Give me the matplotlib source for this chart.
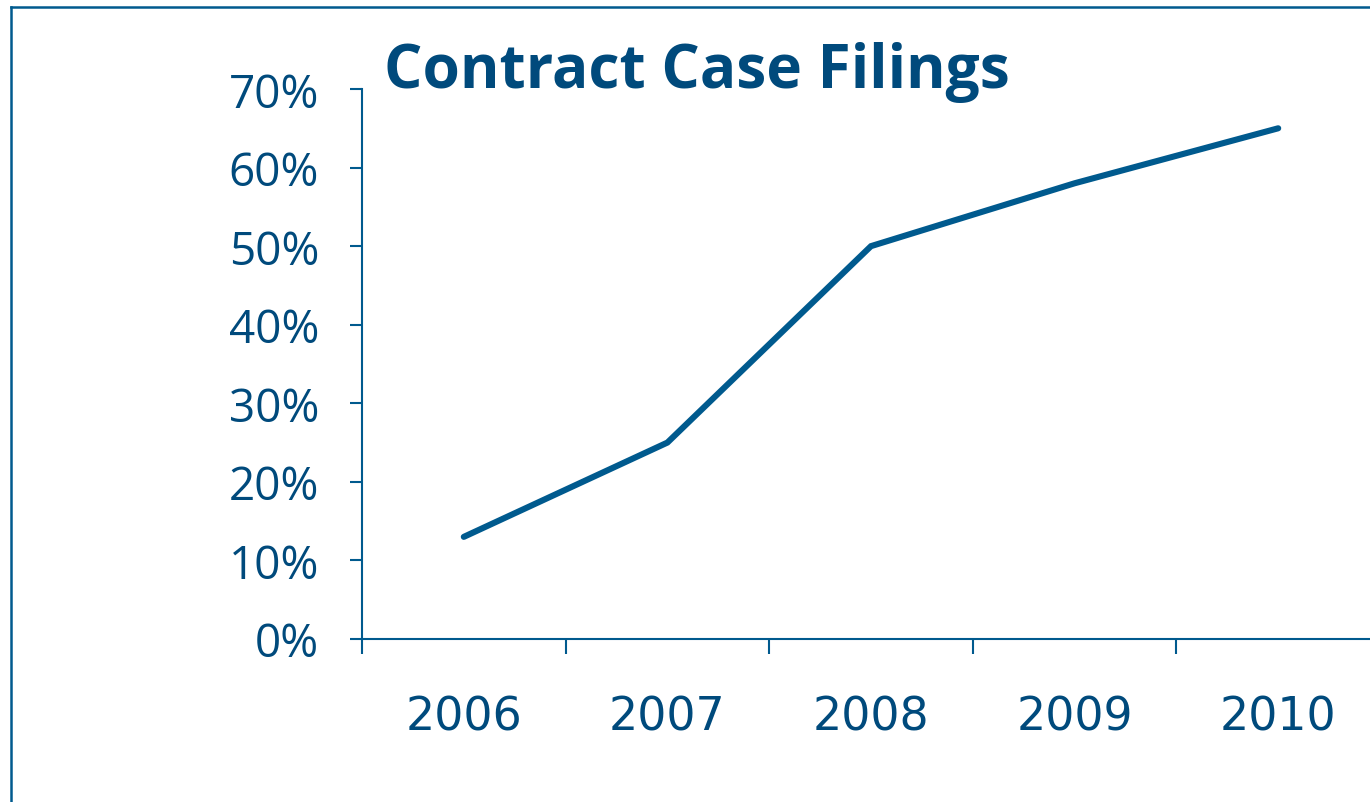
import numpy as np
import matplotlib
matplotlib.use("Agg")
from matplotlib import pyplot as plt
from matplotlib.lines import Line2D

# data
years = ["2006", "2007", "2008", "2009", "2010"]
share = [0.13, 0.25, 0.50, 0.58, 0.65]
yticks = [0.0, 0.1, 0.2, 0.3, 0.4, 0.5, 0.6, 0.7]
title = "Contract Case Filings"

line_col = "#005a8e"
text_col = "#004a7c"
plt.rcParams['font.family'] = ['Open Sans', 'DejaVu Sans']

W, H = 1370, 803
fig = plt.figure(figsize=(W / 100, H / 100), dpi=100)
ax = fig.add_axes([362 / W, 1 - 640 / H, 1008 / W, 550 / H])

x = np.arange(len(years)) + 0.5
ax.plot(x, share, color=line_col, lw=4.4, solid_capstyle="round", solid_joinstyle="miter", clip_on=False)

ax.set_xlim(0, 1008 / 203.6)
ax.set_ylim(0, 0.7)

# ticks on category boundaries, labels at centres
ax.set_xticks(np.arange(len(years)))
ax.set_xticklabels([])
ax.set_xticks(x, minor=True)
ax.set_xticklabels(years, minor=True, fontsize=33, color=text_col, family=["DejaVu Sans"])
ax.tick_params(axis="x", which="major", length=11, width=1.5, color=line_col, direction="out")
ax.tick_params(axis="x", which="minor", length=0, pad=40)

ax.set_yticks(yticks)
ax.set_yticklabels(["%d%%" % round(v * 100) for v in yticks], fontsize=33, color=text_col)
ax.tick_params(axis="y", length=9, width=1.5, color=line_col, pad=22)

for s in ["top", "right"]:
    ax.spines[s].set_visible(False)
for s in ["left", "bottom"]:
    ax.spines[s].set_color(line_col)
    ax.spines[s].set_linewidth(1.5)

fig.text(384 / W, 1 - 88 / H, title, fontsize=43.5, fontweight="bold", color=text_col, ha="left", va="baseline")

# frame around the slide
fig.add_artist(Line2D([11 / W, 11 / W], [0, 1 - 8 / H], color=line_col, lw=1.8))
fig.add_artist(Line2D([11 / W, 1], [1 - 8 / H, 1 - 8 / H], color=line_col, lw=1.8))

fig.savefig("out.png", dpi=100, facecolor="white")
